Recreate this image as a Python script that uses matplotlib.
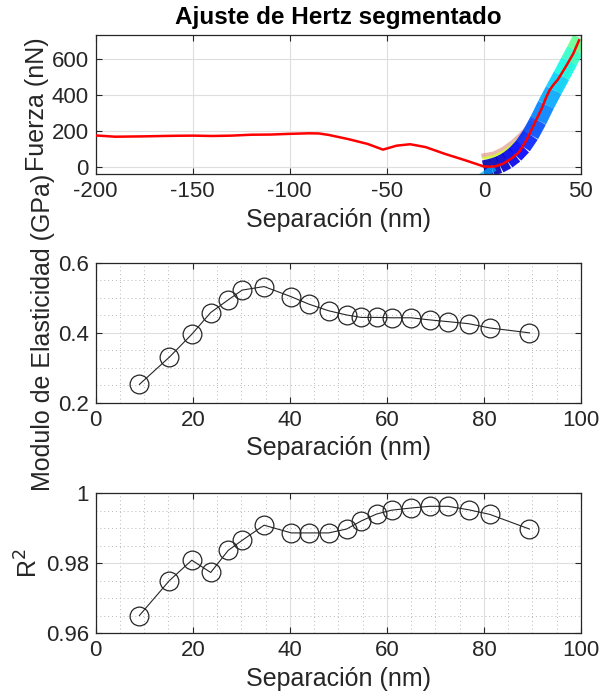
import numpy as np
import matplotlib
matplotlib.use('Agg')
from matplotlib import pyplot as plt
from matplotlib.ticker import MultipleLocator

# curva fuerza-separacion (promedio)
sep_curve = [-200, -190, -175, -160, -150, -140, -130, -120, -110, -100, -90, -85, -80,
             -70, -60, -52, -45, -38, -30, -20, -10, 0, 3, 6, 10, 14, 18, 22, 26, 30,
             32, 34, 36, 38, 42, 46, 49]
force_curve = [175, 168, 170, 173, 174, 172, 174, 179, 180, 184, 187, 186, 178,
               155, 128, 96, 118, 126, 110, 72, 38, 2, 1, 3, 18, 45, 80, 150, 240, 330,
               385, 430, 460, 485, 555, 630, 705]

# banda de ajustes de Hertz (segmentos coloreados)
band_x = [0, 4, 8, 12, 16, 20, 24, 28, 32, 36, 40, 44, 47, 50]
band_y = [-12, -2, 12, 35, 68, 114, 178, 258, 346, 428, 508, 590, 650, 715]
band_c = [0.04, 0.05, 0.07, 0.09, 0.12, 0.16, 0.2, 0.25, 0.29, 0.33, 0.37, 0.41, 0.47, 0.55]
warm_x = [0, 5, 10, 15, 20, 24]
warm_y = [62, 72, 98, 138, 188, 240]
yel_x = [0, 5, 10, 15, 20]
yel_y = [48, 58, 84, 124, 174]
edge_x = [38, 42, 46, 50]
edge_y = [410, 500, 590, 685]
tip_x = [0, 2, 4]
tip_y = [-45, -30, -15]

# resultados por segmento
seg = [9.0, 15.2, 19.8, 23.7, 27.3, 30.2, 34.7, 40.3, 43.9, 48.0, 51.7, 54.7, 57.9,
       61.0, 64.9, 68.8, 72.6, 76.9, 81.2, 89.4]
modulo = [0.253, 0.331, 0.396, 0.458, 0.494, 0.522, 0.532, 0.503, 0.482, 0.463, 0.451,
          0.444, 0.444, 0.443, 0.443, 0.437, 0.432, 0.426, 0.414, 0.400]
r2 = [0.9650, 0.9750, 0.9808, 0.9773, 0.9836, 0.9865, 0.9908, 0.9886, 0.9886, 0.9886,
      0.9897, 0.9920, 0.9940, 0.9951, 0.9957, 0.9962, 0.9962, 0.9952, 0.9939, 0.9897]

plt.rcParams['font.family'] = ['Liberation Sans', 'DejaVu Sans']
plt.rcParams['font.size'] = 16
plt.rcParams['axes.unicode_minus'] = False
dark = (0.15, 0.15, 0.15)
lblsize = 18

fig = plt.figure(figsize=(6.02, 7.0), dpi=100)
ax1 = fig.add_axes([0.159, 0.7514, 0.806, 0.1986])
ax2 = fig.add_axes([0.159, 0.4243, 0.806, 0.2004])
ax3 = fig.add_axes([0.159, 0.0957, 0.806, 0.2000])

jet = plt.get_cmap('jet')

# top: fuerza
ax1.plot(warm_x, warm_y, color=(0.8, 0.3, 0.2), lw=3.5, alpha=0.4, zorder=2)
ax1.plot(yel_x, yel_y, color=jet(0.6), lw=2, alpha=0.8, zorder=2)
ax1.plot(edge_x, edge_y, color=jet(0.7), lw=2.5, alpha=0.6, zorder=2)
for i in range(len(band_x) - 1):
    ax1.plot(band_x[i:i + 2], band_y[i:i + 2], color=jet(band_c[i]), lw=12.5,
             alpha=0.9, solid_capstyle='butt', zorder=2)
ax1.plot(tip_x, tip_y, color=jet(0.3), lw=5, alpha=0.7, zorder=2)
ax1.plot(sep_curve, force_curve, color='red', lw=1.8, zorder=3)
ax1.set_xlim(-200, 50)
ax1.set_ylim(-40, 735)
ax1.set_xticks([-200, -150, -100, -50, 0, 50])
ax1.set_yticks([0, 200, 400, 600])
ax1.grid(True, which='major', color=(0.87, 0.87, 0.87), lw=0.8)
ax1.set_title('Ajuste de Hertz segmentado', fontsize=17.5, fontweight='bold', pad=8)
ax1.set_xlabel('Separación (nm)', fontsize=lblsize, color=dark)
ax1.set_ylabel('Fuerza (nN)', fontsize=lblsize, color=dark, labelpad=2)

# middle: modulo
ax2.plot(seg, modulo, '-o', color=dark, lw=0.8, ms=13.5, mfc='none', mew=0.9)
ax2.set_xlim(0, 100)
ax2.set_ylim(0.2, 0.6)
ax2.set_yticks([0.2, 0.4, 0.6])
ax2.yaxis.set_minor_locator(MultipleLocator(0.05))
ax2.set_xlabel('Separación (nm)', fontsize=lblsize, color=dark)
ax2.set_ylabel('Modulo de Elasticidad (GPa)', fontsize=lblsize, color=dark, labelpad=2)

# bottom: R^2
ax3.plot(seg, r2, '-o', color=dark, lw=0.8, ms=13.5, mfc='none', mew=0.9)
ax3.set_xlim(0, 100)
ax3.set_ylim(0.96, 1.0)
ax3.set_yticks([0.96, 0.98, 1.0])
ax3.set_yticklabels(['0.96', '0.98', '1'])
ax3.yaxis.set_minor_locator(MultipleLocator(0.005))
ax3.set_xlabel('Separación (nm)', fontsize=lblsize, color=dark)
ax3.set_ylabel('R$^2$', fontsize=lblsize, color=dark, labelpad=2)

for ax in (ax2, ax3):
    ax.set_xticks([0, 20, 40, 60, 80, 100])
    ax.xaxis.set_minor_locator(MultipleLocator(5))
    ax.grid(True, which='major', color=(0.87, 0.87, 0.87), lw=0.8)
    ax.grid(True, which='minor', color=(0.72, 0.72, 0.72), lw=0.7, ls=(0, (1, 3)))
    ax.tick_params(which='minor', length=0)

for ax in (ax1, ax2, ax3):
    ax.set_axisbelow(True)
    ax.tick_params(which='major', direction='in', length=4, width=0.8,
                   top=True, right=True, colors=dark, labelsize=16, pad=5)
    for s in ax.spines.values():
        s.set_color(dark)
        s.set_linewidth(0.9)

fig.savefig('out.png', dpi=100)
